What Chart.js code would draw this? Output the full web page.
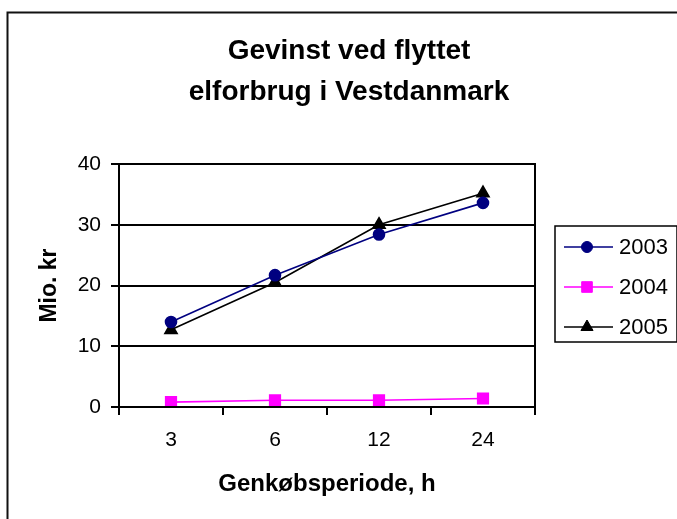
<!DOCTYPE html>
<html>
<head>
<meta charset="utf-8">
<script src="https://cdn.jsdelivr.net/npm/chart.js@4"></script>
<style>
    html, body { margin: 0; padding: 0; background: #ffffff; }
    canvas { display: block; }
</style>
</head>
<body>
<canvas id="miGrafica" width="677" height="519"></canvas>
<script>
// Datos
let categorias = ['3', '6', '12', '24'];
let serie2003 = [14.0, 21.7, 28.4, 33.6];
let serie2004 = [0.8, 1.1, 1.1, 1.4];
let serie2005 = [12.7, 20.5, 30.0, 35.2];
let ticksY = [0, 10, 20, 30, 40];
let tituloLineas = ['Gevinst ved flyttet', 'elforbrug i Vestdanmark'];
let tituloY = 'Mio. kr';
let tituloX = 'Genkøbsperiode, h';

let fuente = '"Liberation Sans", Arial, sans-serif';

// Marco exterior y borde del area de trazado
const marcoPlugin = {
    id: 'marco',
    beforeDraw(chart) {
        let ctx = chart.ctx;
        ctx.save();
        ctx.fillStyle = '#ffffff';
        ctx.fillRect(0, 0, chart.width, chart.height);
        ctx.strokeStyle = '#111111';
        ctx.lineWidth = 2;
        ctx.strokeRect(7.5, 12.5, chart.width + 20, chart.height + 20);
        ctx.restore();
    },
    afterDatasetsDraw(chart) {
        let a = chart.chartArea;
        let ctx = chart.ctx;
        ctx.save();
        ctx.strokeStyle = '#000000';
        ctx.lineWidth = 2;
        ctx.strokeRect(a.left, a.top, a.right - a.left, a.bottom - a.top);
        ctx.restore();
    }
};

// Titulo en dos lineas
const tituloPlugin = {
    id: 'tituloDosLineas',
    afterDraw(chart) {
        let ctx = chart.ctx;
        ctx.save();
        ctx.fillStyle = '#000000';
        ctx.font = 'bold 28px ' + fuente;
        ctx.textAlign = 'center';
        ctx.textBaseline = 'middle';
        ctx.fillText(tituloLineas[0], 349, 51);
        ctx.fillText(tituloLineas[1], 349, 92);
        ctx.restore();
    }
};

// Leyenda estilo Excel: linea con marcador
const leyendaPlugin = {
    id: 'leyendaExcel',
    afterDraw(chart) {
        let ctx = chart.ctx;
        let caja = { x: 555, y: 226, w: 122, h: 116 };
        ctx.save();
        ctx.strokeStyle = '#000000';
        ctx.lineWidth = 1.5;
        ctx.strokeRect(caja.x, caja.y, caja.w, caja.h);
        ctx.font = '22px ' + fuente;
        ctx.textBaseline = 'middle';
        ctx.textAlign = 'left';
        chart.data.datasets.forEach((ds, i) => {
            let y = 247 + i * 40;
            ctx.strokeStyle = ds.borderColor;
            ctx.lineWidth = ds.borderWidth;
            ctx.beginPath();
            ctx.moveTo(564, y);
            ctx.lineTo(613, y);
            ctx.stroke();
            ctx.fillStyle = ds.pointBackgroundColor;
            ctx.strokeStyle = ds.pointBorderColor;
            ctx.lineWidth = 1;
            Chart.helpers.drawPoint(ctx, {
                pointStyle: ds.pointStyle,
                rotation: 0,
                radius: ds.pointRadius,
                borderWidth: 1
            }, 587, y);
            ctx.fillStyle = '#000000';
            ctx.fillText(ds.label, 619, y + 1);
        });
        ctx.restore();
    }
};

function crearGrafica() {
    let ctx = document.getElementById('miGrafica').getContext('2d');
    return new Chart(ctx, {
        type: 'line',
        data: {
            labels: categorias,
            datasets: [{
                label: '2003',
                data: serie2003,
                borderColor: '#000080',
                backgroundColor: '#000080',
                pointBackgroundColor: '#000080',
                pointBorderColor: '#000080',
                pointStyle: 'circle',
                pointRadius: 5.5,
                borderWidth: 1.6
            }, {
                label: '2004',
                data: serie2004,
                borderColor: '#ff00ff',
                backgroundColor: '#ff00ff',
                pointBackgroundColor: '#ff00ff',
                pointBorderColor: '#ff00ff',
                pointStyle: 'rect',
                pointRadius: 7.5,
                borderWidth: 1.6
            }, {
                label: '2005',
                data: serie2005,
                borderColor: '#000000',
                backgroundColor: '#000000',
                pointBackgroundColor: '#000000',
                pointBorderColor: '#000000',
                pointStyle: 'triangle',
                pointRadius: 7,
                borderWidth: 1.6
            }]
        },
        options: {
            responsive: false,
            animation: false,
            devicePixelRatio: 1,
            layout: {
                padding: { left: 0, top: 164, right: 142, bottom: 0 }
            },
            plugins: {
                legend: { display: false },
                title: { display: false },
                tooltip: { enabled: false }
            },
            scales: {
                x: {
                    offset: true,
                    grid: {
                        offset: true,
                        drawOnChartArea: false,
                        drawTicks: true,
                        tickLength: 8,
                        color: '#000000',
                        lineWidth: 2
                    },
                    border: { color: '#000000', width: 2 },
                    ticks: {
                        color: '#000000',
                        font: { family: fuente, size: 21 },
                        padding: 13
                    },
                    title: {
                        display: true,
                        text: tituloX,
                        color: '#000000',
                        font: { family: fuente, size: 24, weight: 'bold' },
                        padding: { top: 0, bottom: 20 }
                    },
                    afterFit(scale) { scale.height = 112; }
                },
                y: {
                    min: 0,
                    max: 40,
                    afterBuildTicks(scale) {
                        scale.ticks = ticksY.map(v => ({ value: v }));
                    },
                    grid: {
                        color: '#000000',
                        lineWidth: 2,
                        tickLength: 8
                    },
                    border: { color: '#000000', width: 2 },
                    ticks: {
                        color: '#000000',
                        font: { family: fuente, size: 21 },
                        padding: 10
                    },
                    title: {
                        display: true,
                        text: tituloY,
                        color: '#000000',
                        font: { family: fuente, size: 23, weight: 'bold' },
                        padding: { top: 36, bottom: 0 }
                    },
                    afterFit(scale) { scale.width = 119; }
                }
            }
        },
        plugins: [marcoPlugin, tituloPlugin, leyendaPlugin]
    });
}

crearGrafica();
</script>
</body>
</html>
